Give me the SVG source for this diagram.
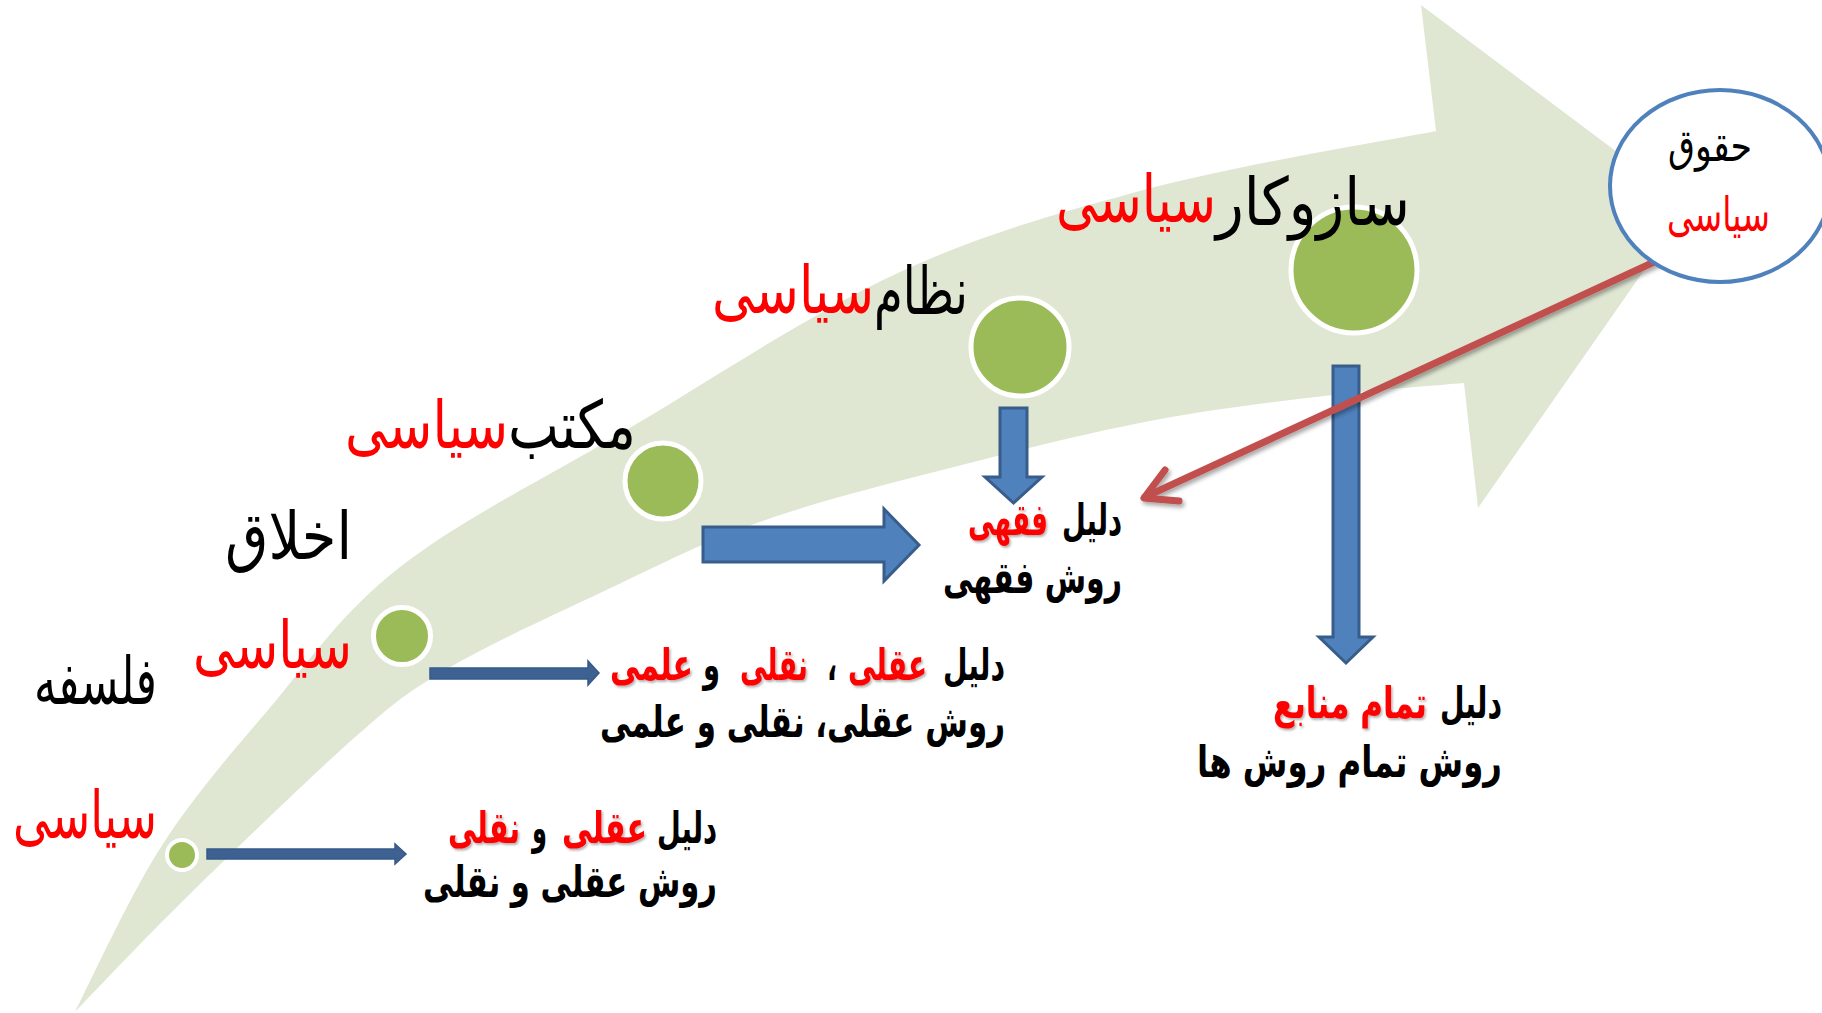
<svg xmlns="http://www.w3.org/2000/svg" width="1822" height="1013" viewBox="0 0 1822 1013">
<defs>
<style>
.lbl{font-family:"DejaVu Sans","Noto Sans",sans-serif;font-size:66px}
.b{font-family:"DejaVu Sans","Noto Sans",sans-serif;font-weight:bold;font-size:44px}
.r{fill:#ff0000}
.k{fill:#000000}
.dot{fill:#9bbb59;stroke:#ffffff;stroke-width:5}
.blk{fill:#4f81bd;stroke:#385d8a;stroke-width:3;stroke-linejoin:miter}
.thin{fill:#3d6190;stroke:#36598a;stroke-width:1.5}
</style>
<filter id="sh" x="-10%" y="-10%" width="130%" height="140%">
<feDropShadow dx="2" dy="3" stdDeviation="2" flood-color="#000" flood-opacity="0.35"/>
</filter>
<filter id="tsh" x="-10%" y="-20%" width="130%" height="150%">
<feDropShadow dx="1.5" dy="2" stdDeviation="1.2" flood-color="#000" flood-opacity="0.3"/>
</filter>
</defs>
<rect width="1822" height="1013" fill="#ffffff"/>
<g id="big-arrow">
<path fill="#dfe7d3" d="M75,1012 C89,985 129,897 161,847 C193,797 228,757 268,710 C308,663 341,613 400,567 C459,521 540,481 623,432 C706,383 811,313 900,272 C989,231 1066,211 1155,187 C1244,164 1389,140 1436,131 L1421,5 L1689,206 L1478,508 L1464,383 C1442,385 1384,389 1333,395 C1281,401 1219,408 1155,420 C1091,432 1016,451 950,468 C884,485 815,502 757,523 C699,544 653,568 600,593 C547,618 483,647 440,673 C397,699 386,710 344,747 C303,784 236,849 191,893 C146,937 94,992 75,1012 Z"/>
</g>
<g id="connectors">
<path class="thin" d="M207,849 L395,849 L395,844 L406,854 L395,864 L395,859 L207,859 Z"/>
<path class="thin" d="M430,668 L588,668 L588,661 L599,673 L588,685 L588,679 L430,679 Z"/>
<path class="blk" d="M703,527 L884,527 L884,509 L919,545 L884,581 L884,562 L703,562 Z"/>
<path class="blk" d="M1000,408 L1027,408 L1027,477 L1042,477 L1013.5,503 L985,477 L1000,477 Z"/>
<path class="blk" d="M1333,366 L1359,366 L1359,637 L1373,637 L1346,663 L1319,637 L1333,637 Z"/>
<g filter="url(#sh)" fill="none" stroke="#c0504d" stroke-width="7" stroke-linecap="round" stroke-linejoin="round">
<path d="M1665,257 L1145,497"/>
<path d="M1165,470 L1144,498 L1179,501"/>
</g>
</g>
<g id="node-hoquq">
<ellipse cx="1720" cy="186" rx="110" ry="96" fill="#ffffff" stroke="#4f81bd" stroke-width="4"/>
<text class="k" x="1668" y="161" textLength="84" lengthAdjust="spacingAndGlyphs" style="font-family:'DejaVu Sans',sans-serif;font-size:44px">حقوق</text>
<text class="r" x="1667" y="231" textLength="103" lengthAdjust="spacingAndGlyphs" style="font-family:'DejaVu Sans',sans-serif;font-size:48px">سیاسی</text>
</g>
<g id="node-sazokar">
<circle class="dot" cx="1354" cy="270" r="63"/>
<text class="lbl k" x="1216" y="225" textLength="194" lengthAdjust="spacingAndGlyphs">سازوکار</text>
<text class="lbl r" x="1056" y="222" textLength="160" lengthAdjust="spacingAndGlyphs">سیاسی</text>
</g>
<g id="node-nezam">
<circle class="dot" cx="1020" cy="347" r="49"/>
<text class="lbl k" x="874" y="314" textLength="94" lengthAdjust="spacingAndGlyphs">نظام</text>
<text class="lbl r" x="712" y="313" textLength="162" lengthAdjust="spacingAndGlyphs">سیاسی</text>
</g>
<g id="node-maktab">
<circle class="dot" cx="663" cy="481" r="38"/>
<text class="lbl k" x="508" y="448" textLength="128" lengthAdjust="spacingAndGlyphs">مکتب</text>
<text class="lbl r" x="345" y="448" textLength="163" lengthAdjust="spacingAndGlyphs">سیاسی</text>
</g>
<g id="node-akhlagh">
<circle class="dot" cx="402" cy="636" r="28.5"/>
<text class="lbl k" x="225" y="559" textLength="127" lengthAdjust="spacingAndGlyphs">اخلاق</text>
<text class="lbl r" x="193" y="668" textLength="159" lengthAdjust="spacingAndGlyphs">سیاسی</text>
</g>
<g id="node-falsafe">
<circle cx="182" cy="855" r="15" fill="#9bbb59" stroke="#ffffff" stroke-width="4"/>
<text class="lbl k" x="34" y="704" textLength="123" lengthAdjust="spacingAndGlyphs">فلسفه</text>
<text class="lbl r" x="13" y="838" textLength="144" lengthAdjust="spacingAndGlyphs">سیاسی</text>
</g>
<g id="desc-falsafe">
<text class="b k" x="657" y="843" textLength="60" lengthAdjust="spacingAndGlyphs">دلیل</text>
<text class="b r" x="562" y="843" textLength="85" lengthAdjust="spacingAndGlyphs" filter="url(#tsh)">عقلی</text>
<text class="b k" x="532" y="843" textLength="15" lengthAdjust="spacingAndGlyphs">و</text>
<text class="b r" x="448" y="843" textLength="72" lengthAdjust="spacingAndGlyphs" filter="url(#tsh)">نقلی</text>
<text class="b k" x="423" y="897" textLength="294" lengthAdjust="spacingAndGlyphs">روش عقلی و نقلی</text>
</g>
<g id="desc-akhlagh">
<text class="b k" x="943" y="680" textLength="62" lengthAdjust="spacingAndGlyphs">دلیل</text>
<text class="b r" x="848" y="680" textLength="79" lengthAdjust="spacingAndGlyphs" filter="url(#tsh)">عقلی</text>
<text class="b k" x="827" y="680" textLength="10" lengthAdjust="spacingAndGlyphs">،</text>
<text class="b r" x="740" y="680" textLength="68" lengthAdjust="spacingAndGlyphs" filter="url(#tsh)">نقلی</text>
<text class="b k" x="703" y="680" textLength="17" lengthAdjust="spacingAndGlyphs">و</text>
<text class="b r" x="610" y="680" textLength="83" lengthAdjust="spacingAndGlyphs" filter="url(#tsh)">علمی</text>
<text class="b k" x="600" y="737" textLength="405" lengthAdjust="spacingAndGlyphs">روش عقلی، نقلی و علمی</text>
</g>
<g id="desc-feghhi">
<text class="b k" x="1062" y="535" textLength="60" lengthAdjust="spacingAndGlyphs">دلیل</text>
<text class="b r" x="968" y="535" textLength="80" lengthAdjust="spacingAndGlyphs" filter="url(#tsh)">فقهی</text>
<text class="b k" x="943" y="593" textLength="179" lengthAdjust="spacingAndGlyphs">روش فقهی</text>
</g>
<g id="desc-manabe">
<text class="b k" x="1440" y="718" textLength="62" lengthAdjust="spacingAndGlyphs">دلیل</text>
<text class="b r" x="1273" y="718" textLength="154" lengthAdjust="spacingAndGlyphs" filter="url(#tsh)">تمام منابع</text>
<text class="b k" x="1197" y="777" textLength="305" lengthAdjust="spacingAndGlyphs">روش تمام روش ها</text>
</g>
</svg>
